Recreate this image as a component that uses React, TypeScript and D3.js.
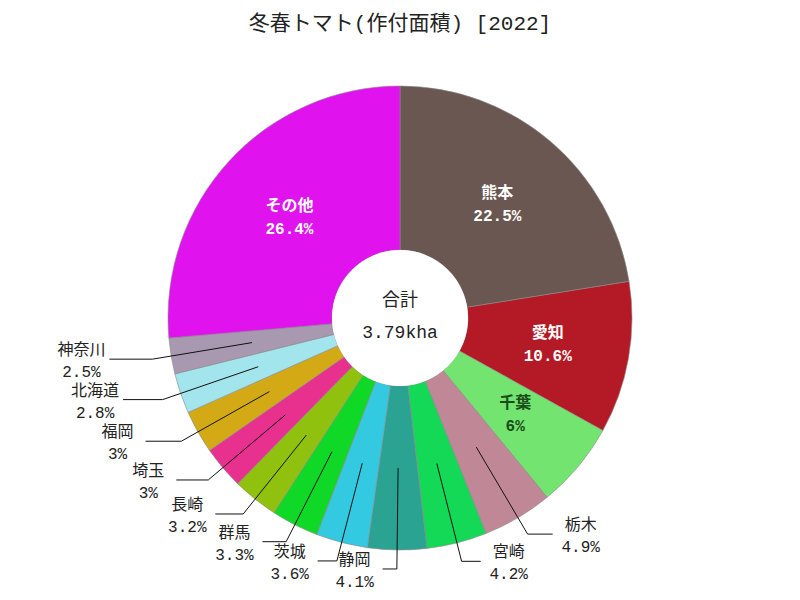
import React from "react";
import * as d3 from "d3";

const categories = ["熊本", "愛知", "千葉", "栃木", "宮崎", "静岡", "茨城", "群馬", "長崎", "埼玉", "福岡", "北海道", "神奈川", "その他"];
const shares = [22.5, 10.6, 6, 4.9, 4.2, 4.1, 3.6, 3.3, 3.2, 3, 3, 2.8, 2.5, 26.4];
const colors = ["#6b5751", "#b41a26", "#74e470", "#c08896", "#14d957", "#2aa392", "#33c9e0", "#10d826", "#90c10e", "#e8318f", "#d3aa15", "#a2e5ec", "#a999b0", "#e013ef"];
const insideLabels = [true, true, true, false, false, false, false, false, false, false, false, false, false, true];
const insideTextColors = ["#ffffff", "#ffffff", "#1b4d1b", "", "", "", "", "", "", "", "", "", "", "#ffffff"];
const title = "冬春トマト(作付面積) [2022]";
const totalLabel = "合計";
const totalValue = "3.79kha";

const W = 800, H = 600;
const cx = 400, cy = 318;
const R = 232, R0 = 68, RM = 150, RL = 251;
const FONT = "'Liberation Mono', 'Noto Sans CJK JP', monospace";

export default function App() {
  const pie = d3.pie<number>().sort(null).value((d) => d);
  const arcs = pie(shares);
  const arc = d3.arc<d3.PieArcDatum<number>>().innerRadius(R0).outerRadius(R);

  return (
    <svg width={W} height={H} style={{ position: "absolute", left: 0, top: 0, background: "#fff" }} fontFamily={FONT}>
      <text x={400} y={30} textAnchor="middle" fontSize={21} fill="#222">{title}</text>
      <g transform={`translate(${cx},${cy})`}>
        {arcs.map((a, i) => (
          <path key={i} d={arc(a) || ""} fill={colors[i]} stroke="#8a8a8a" strokeWidth={0.6} />
        ))}
        {arcs.map((a, i) => {
          const mid = (a.startAngle + a.endAngle) / 2;
          const pct = `${shares[i]}%`;
          if (insideLabels[i]) {
            const x = RM * Math.sin(mid), y = -RM * Math.cos(mid);
            return (
              <g key={"l" + i} fill={insideTextColors[i]} fontSize={16} fontWeight="bold" textAnchor="middle">
                <text x={x} y={y - 6}>{categories[i]}</text>
                <text x={x} y={y + 17}>{pct}</text>
              </g>
            );
          }
          const sx = RM * Math.sin(mid), sy = -RM * Math.cos(mid);
          const ex = RL * Math.sin(mid), ey = -RL * Math.cos(mid);
          const deg = Math.abs((mid * 180) / Math.PI - 180);
          const h = 14 + 0.36 * deg;
          const right = Math.sin(mid) > 0.01;
          const dir = right ? 1 : -1;
          const hx = ex + dir * h;
          const tx = hx + dir * 28;
          return (
            <g key={"l" + i}>
              <polyline points={`${sx},${sy} ${ex},${ey} ${hx},${ey}`} fill="none" stroke="#111" strokeWidth={1} />
              <g fill="#222" fontSize={16} textAnchor="middle">
                <text x={tx} y={ey - 4}>{categories[i]}</text>
                <text x={tx} y={ey + 18}>{pct}</text>
              </g>
            </g>
          );
        })}
        <circle r={R0} fill="#fff" stroke="none" />
        <text x={0} y={-12} textAnchor="middle" fontSize={18} fill="#222">{totalLabel}</text>
        <text x={0} y={20} textAnchor="middle" fontSize={18} fill="#222">{totalValue}</text>
      </g>
    </svg>
  );
}
